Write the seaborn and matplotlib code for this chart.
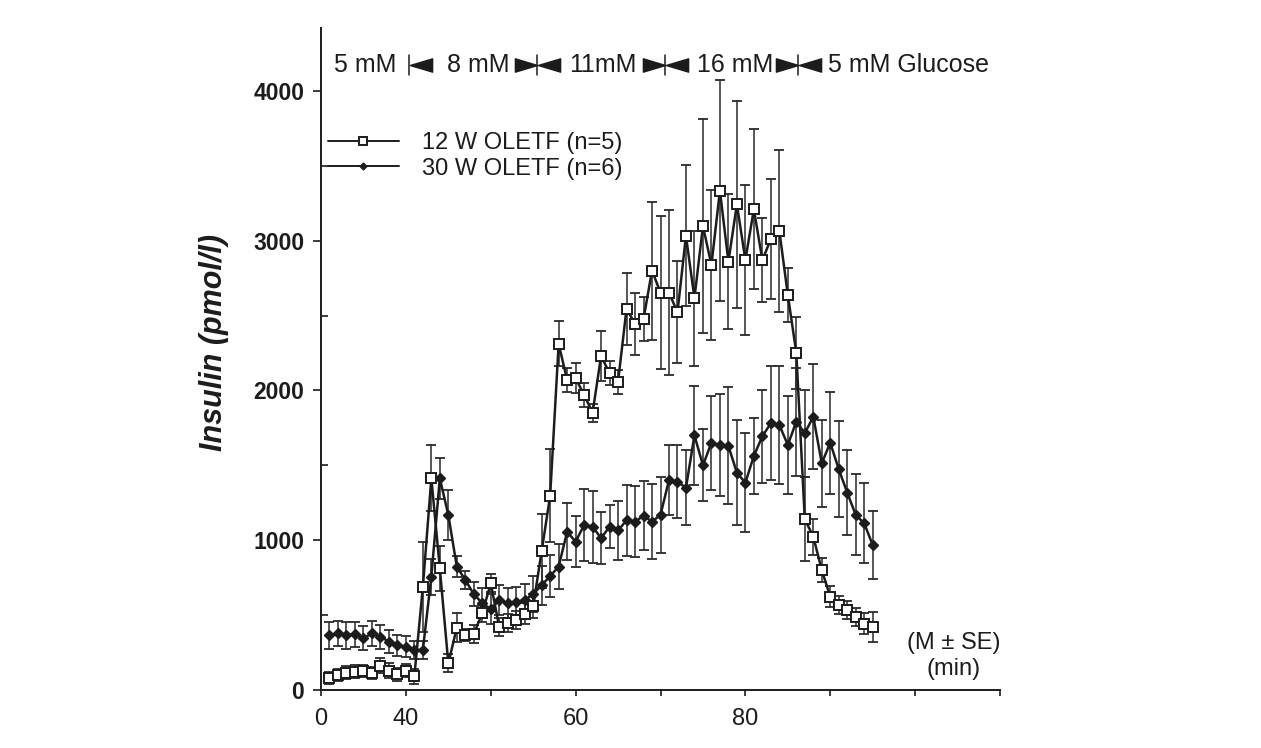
import numpy as np
import pandas as pd
import matplotlib
matplotlib.use("Agg")
import matplotlib.pyplot as plt
from matplotlib.lines import Line2D
from matplotlib.path import Path
import seaborn as sns

# ---------------- data ----------------
# sample times (min); first 10 samples every 4 min (compressed axis segment), then every minute
time_min = [4, 8, 12, 16, 20, 24, 28, 32, 36, 40] + list(range(41, 96))

ins_12w = [80, 100, 116, 122, 129, 116, 162, 129, 105, 129, 93,
           686, 1413, 812, 178, 416, 367, 374, 512, 712, 420, 450, 470, 510, 560,
           928, 1298, 2311, 2070, 2081, 1970, 1852, 2230, 2115, 2059, 2546, 2444,
           2477, 2800, 2653, 2653, 2522, 3032, 2616, 3098, 2838, 3334, 2860, 3243,
           2871, 3210, 2871, 3010, 3067, 2638, 2252, 1140, 1024, 801, 623, 568,
           534, 490, 441, 423]
se_12w = [40, 40, 45, 45, 40, 40, 50, 50, 45, 45, 50,
          300, 220, 150, 60, 95, 40, 60, 60, 60, 60, 60, 60, 70, 80,
          245, 310, 150, 80, 100, 80, 60, 170, 80, 80, 240, 210,
          150, 460, 510, 550, 340, 470, 450, 715, 500, 740, 450, 690,
          500, 535, 280, 400, 540, 180, 240, 280, 120, 80, 70, 60,
          60, 60, 70, 100]

ins_30w = [367, 378, 367, 372, 345, 378, 356, 323, 300, 289, 267,
           267, 757, 1413, 1169, 824, 735, 640, 580, 540, 600, 580, 590, 600, 640,
           700, 760, 824, 1057, 990, 1102, 1091, 1013, 1091, 1065, 1133, 1124,
           1163, 1124, 1169, 1402, 1391, 1350, 1700, 1500, 1651, 1633, 1630, 1450,
           1384, 1563, 1694, 1781, 1770, 1636, 1792, 1714, 1825, 1514, 1651, 1474,
           1318, 1169, 1113, 968]
se_30w = [90, 85, 90, 85, 80, 85, 80, 75, 70, 70, 60,
          60, 120, 135, 165, 70, 60, 80, 100, 100, 100, 100, 100, 110, 120,
          130, 140, 150, 190, 170, 240, 240, 175, 145, 200, 235, 235,
          230, 250, 255, 235, 245, 250, 330, 240, 315, 340, 390, 350,
          330, 255, 310, 380, 395, 330, 360, 290, 350, 290, 340, 320,
          285, 270, 267, 225]

series_labels = ["12 W OLETF (n=5)", "30 W OLETF (n=6)"]
xtick_vals = [0, 40, 50, 60, 70, 80, 90, 100, 110]
xtick_labels = ["0", "40", "", "60", "", "80", "", "", ""]
ytick_vals = [0, 1000, 2000, 3000, 4000]
glucose_phases = ["5 mM", "8 mM", "11mM", "16 mM", "5 mM Glucose"]

df = pd.DataFrame({
    "time": time_min * 2,
    "insulin": ins_12w + ins_30w,
    "se": se_12w + se_30w,
    "group": [series_labels[0]] * len(time_min) + [series_labels[1]] * len(time_min),
})

# ---------------- style ----------------
sns.set_theme(style="ticks")
plt.rcParams["font.family"] = ["Liberation Sans", "DejaVu Sans"]
ink = "#1c1c1c"

W, H = 1261, 748
fig = plt.figure(figsize=(W / 100, H / 100), dpi=100)
AX_L, AX_R, AX_B, AX_T = 321, 1000, 690, 28   # pixel frame of the axes
ax = fig.add_axes([AX_L / W, (H - AX_B) / H, (AX_R - AX_L) / W, (AX_B - AX_T) / H])

def px_to_axes(px, py):
    return (px - AX_L) / (AX_R - AX_L), (AX_B - py) / (AX_B - AX_T)

def fwd(m):
    m = np.asarray(m, dtype=float)
    return np.where(m < 40, 30 + m / 4.0, m)

def inv(d):
    d = np.asarray(d, dtype=float)
    return np.where(d < 40, (d - 30) * 4.0, d)

ax.set_xscale("function", functions=(fwd, inv))

styles = {
    series_labels[0]: dict(marker="s", ms=7, mfc="white", mec=ink, mew=1.4),
    series_labels[1]: dict(marker="D", ms=5, mfc=ink, mec=ink, mew=1.0),
}
zorders = {series_labels[0]: 4, series_labels[1]: 3}

for lab in [series_labels[1], series_labels[0]]:
    sub = df[df["group"] == lab]
    ax.errorbar(sub["time"], sub["insulin"], yerr=sub["se"], fmt="none",
                ecolor="#2a2a2a", elinewidth=1.1, capsize=3.5, capthick=1.3, zorder=2)
    sns.lineplot(data=sub, x="time", y="insulin", ax=ax, color=ink, lw=1.8,
                 estimator=None, sort=False, legend=False, zorder=zorders[lab],
                 **styles[lab])

ax.set_xlim(0, 110)
ax.set_ylim(0, 4420)

ax.set_xticks(xtick_vals)
ax.set_xticklabels(xtick_labels)
ax.set_yticks(ytick_vals)
ax.set_yticklabels([str(v) for v in ytick_vals])
ax.set_yticks([500, 1500, 2500, 3500], minor=True)
ax.xaxis.set_minor_locator(matplotlib.ticker.NullLocator())

ax.tick_params(axis="x", which="major", direction="out", length=4, width=1.2,
               labelsize=17, pad=9, colors=ink)
ax.tick_params(axis="y", which="major", direction="out", length=6, width=1.2,
               labelsize=16.5, pad=6, colors=ink)
ax.tick_params(axis="y", which="minor", direction="in", length=5, width=1.2, colors=ink)
for t in ax.get_yticklabels():
    t.set_fontweight("bold")

sns.despine(ax=ax)
for s in ["left", "bottom"]:
    ax.spines[s].set_linewidth(1.4)
    ax.spines[s].set_color(ink)

ax.set_xlabel("")
ax.set_ylabel("Insulin (pmol/l)", fontsize=22, fontstyle="italic", fontweight="bold",
              color=ink)
ax.yaxis.set_label_coords(*px_to_axes(229, 342))

# legend
handles = []
for l in series_labels:
    st = dict(styles[l])
    st["ms"] = st["ms"] - 1.5
    handles.append(Line2D([], [], color=ink, lw=1.4, **st))
ax.legend(handles, series_labels, loc="upper left", bbox_to_anchor=px_to_axes(328, 132),
          frameon=False, fontsize=17, handlelength=3.0, handletextpad=1.0,
          labelspacing=0.15, borderaxespad=0.0, borderpad=0.0, labelcolor=ink)

# glucose-phase header: text segments separated by |◄ ►|◄ markers
hy = 65
text_left = [334, 447, 569, 697, 828]
bar_x = [409, 537, 665, 798]
for s, xl in zip(glucose_phases, text_left):
    ax.text(*px_to_axes(xl, hy), s, transform=ax.transAxes, fontsize=18,
            va="center", ha="left", color=ink)
tri_l = Path([(-1, 0), (1, 0.6), (1, -0.6), (-1, 0)], [1, 2, 2, 79])
tri_r = Path([(1, 0), (-1, 0.6), (-1, -0.6), (1, 0)], [1, 2, 2, 79])
for i, bx in enumerate(bar_x):
    x0, y0 = px_to_axes(bx, hy - 10)
    x1, y1 = px_to_axes(bx, hy + 10)
    ax.plot([x0, x1], [y0, y1], transform=ax.transAxes, color=ink, lw=1.1, clip_on=False)
    ax.plot(*px_to_axes(bx + 12, hy), transform=ax.transAxes, marker=tri_l, ms=16,
            color=ink, clip_on=False)
    if i > 0:
        ax.plot(*px_to_axes(bx - 11, hy), transform=ax.transAxes, marker=tri_r, ms=16,
                color=ink, clip_on=False)

ax.text(*px_to_axes(954, 656), "(M ± SE)\n(min)", transform=ax.transAxes, fontsize=17,
        va="center", ha="center", color=ink, linespacing=1.25)

fig.savefig("out.png", dpi=100, facecolor="white")
